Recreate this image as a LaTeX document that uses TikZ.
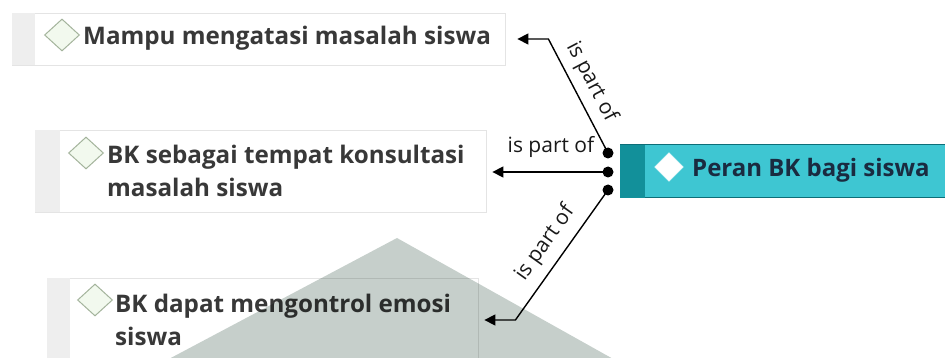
\documentclass[tikz,border=0pt]{standalone}
\usepackage{fontspec}
\setmainfont{Open Sans}
\usetikzlibrary{arrows.meta,shapes.geometric,calc}
\definecolor{stripegray}{HTML}{EEEEEE}
\definecolor{edgegray}{HTML}{E4E4E4}
\definecolor{diaedge}{HTML}{A4B49C}
\definecolor{diafill}{HTML}{F2F9EE}
\definecolor{tealfill}{HTML}{3EC6D2}
\definecolor{tealdark}{HTML}{12909A}
\definecolor{tealedge}{HTML}{0D6E78}
\definecolor{navy}{HTML}{1A2B40}
\definecolor{shadegray}{HTML}{C6CFCB}
\tikzset{
  topicbox/.style={draw=edgegray, line width=0.8pt, fill=white, inner sep=0pt},
  marker/.style={shape=diamond, draw=diaedge, fill=diafill, line width=1pt,
    inner sep=0pt, minimum width=35pt, minimum height=32pt},
  topictext/.style={anchor=west, inner sep=0pt, align=left, text=black!78,
    font=\bfseries\fontsize{24.2}{33}\selectfont},
  knob/.style={circle, fill=black, inner sep=0pt, minimum size=11pt},
  link/.style={line width=1.4pt, -{Triangle[length=11pt,width=11pt]}},
  linklabel/.style={font=\fontsize{21}{22}\selectfont, inner sep=2pt, text=black!90},
}
\begin{document}
\begin{tikzpicture}[x=1pt,y=-1pt]
\useasboundingbox (0,0) rectangle (945,358);

% topic boxes with their grey left stripe
\node[topicbox, minimum width=493pt, minimum height=52pt] (b1) at (258.5,39) {};
\fill[stripegray] ($(b1.north west)+(0.6,0.6)$) rectangle ($(b1.south west)+(23,-0.6)$);
\node[topicbox, minimum width=451pt, minimum height=82pt] (b2) at (260.5,171) {};
\fill[stripegray] ($(b2.north west)+(0.6,0.6)$) rectangle ($(b2.south west)+(25,-0.6)$);
\node[topicbox, minimum width=431pt, minimum height=84pt] (b3) at (262.5,320) {};
\fill[stripegray] ($(b3.north west)+(0.6,0.6)$) rectangle ($(b3.south west)+(23,-0.6)$);

\node[marker] (m1) at (62,35) {};
\node[topictext] (t1) at (83,38) {Mampu mengatasi masalah siswa};
\node[marker] (m2) at (86,153) {};
\node[topictext] (t2) at (107,171) {BK sebagai tempat konsultasi\\masalah siswa};
\node[marker] (m3) at (95,300) {};
\node[topictext] (t3) at (115,320) {BK dapat mengontrol emosi\\siswa};

% central topic
\node[draw=tealedge, line width=1pt, fill=tealfill, minimum width=330pt,
  minimum height=53pt, inner sep=0pt] (c) at (785,171.5) {};
\fill[tealdark] ($(c.north west)+(0.5,0.5)$) rectangle ($(c.south west)+(25,-0.5)$);
\node[shape=diamond, fill=white, draw=white!85!tealfill, inner sep=0pt,
  minimum width=29pt, minimum height=29pt] (cm) at (669,167) {};
\node[anchor=west, inner sep=0pt, text=navy,
  font=\bfseries\fontsize{24}{26}\selectfont] (ct) at (692,170) {Peran BK bagi siswa};

% connector knobs
\node[knob] (k1) at (608,153) {};
\node[knob] (k2) at (608,172) {};
\node[knob] (k3) at (608,190) {};

% connectors
\coordinate (e1) at ($(b1.east)+(12,0)$);
\coordinate (j1) at ($(b1.east)+(43,0)$);
\coordinate (e2) at ($(b2.east)+(6,1)$);
\coordinate (e3) at ($(b3.east)+(6,0)$);
\coordinate (j3) at ($(b3.east)+(37,0)$);

\draw[link] (k1.center) -- node[linklabel, sloped, pos=0.55, above=5pt] {is part of} (j1) -- (e1);
\draw[link] (k2.center) -- (e2);
\node[linklabel, anchor=south] (l2) at (551,160) {is part of};
\draw[link] (k3.center) -- node[linklabel, sloped, pos=0.5, above=7pt] {is part of} (j3) -- (e3);

% grey wedge laid over the lower part
\fill[shadegray, blend mode=multiply] (397,238) -- (615,360) -- (167,360) -- cycle;
\end{tikzpicture}
\end{document}
